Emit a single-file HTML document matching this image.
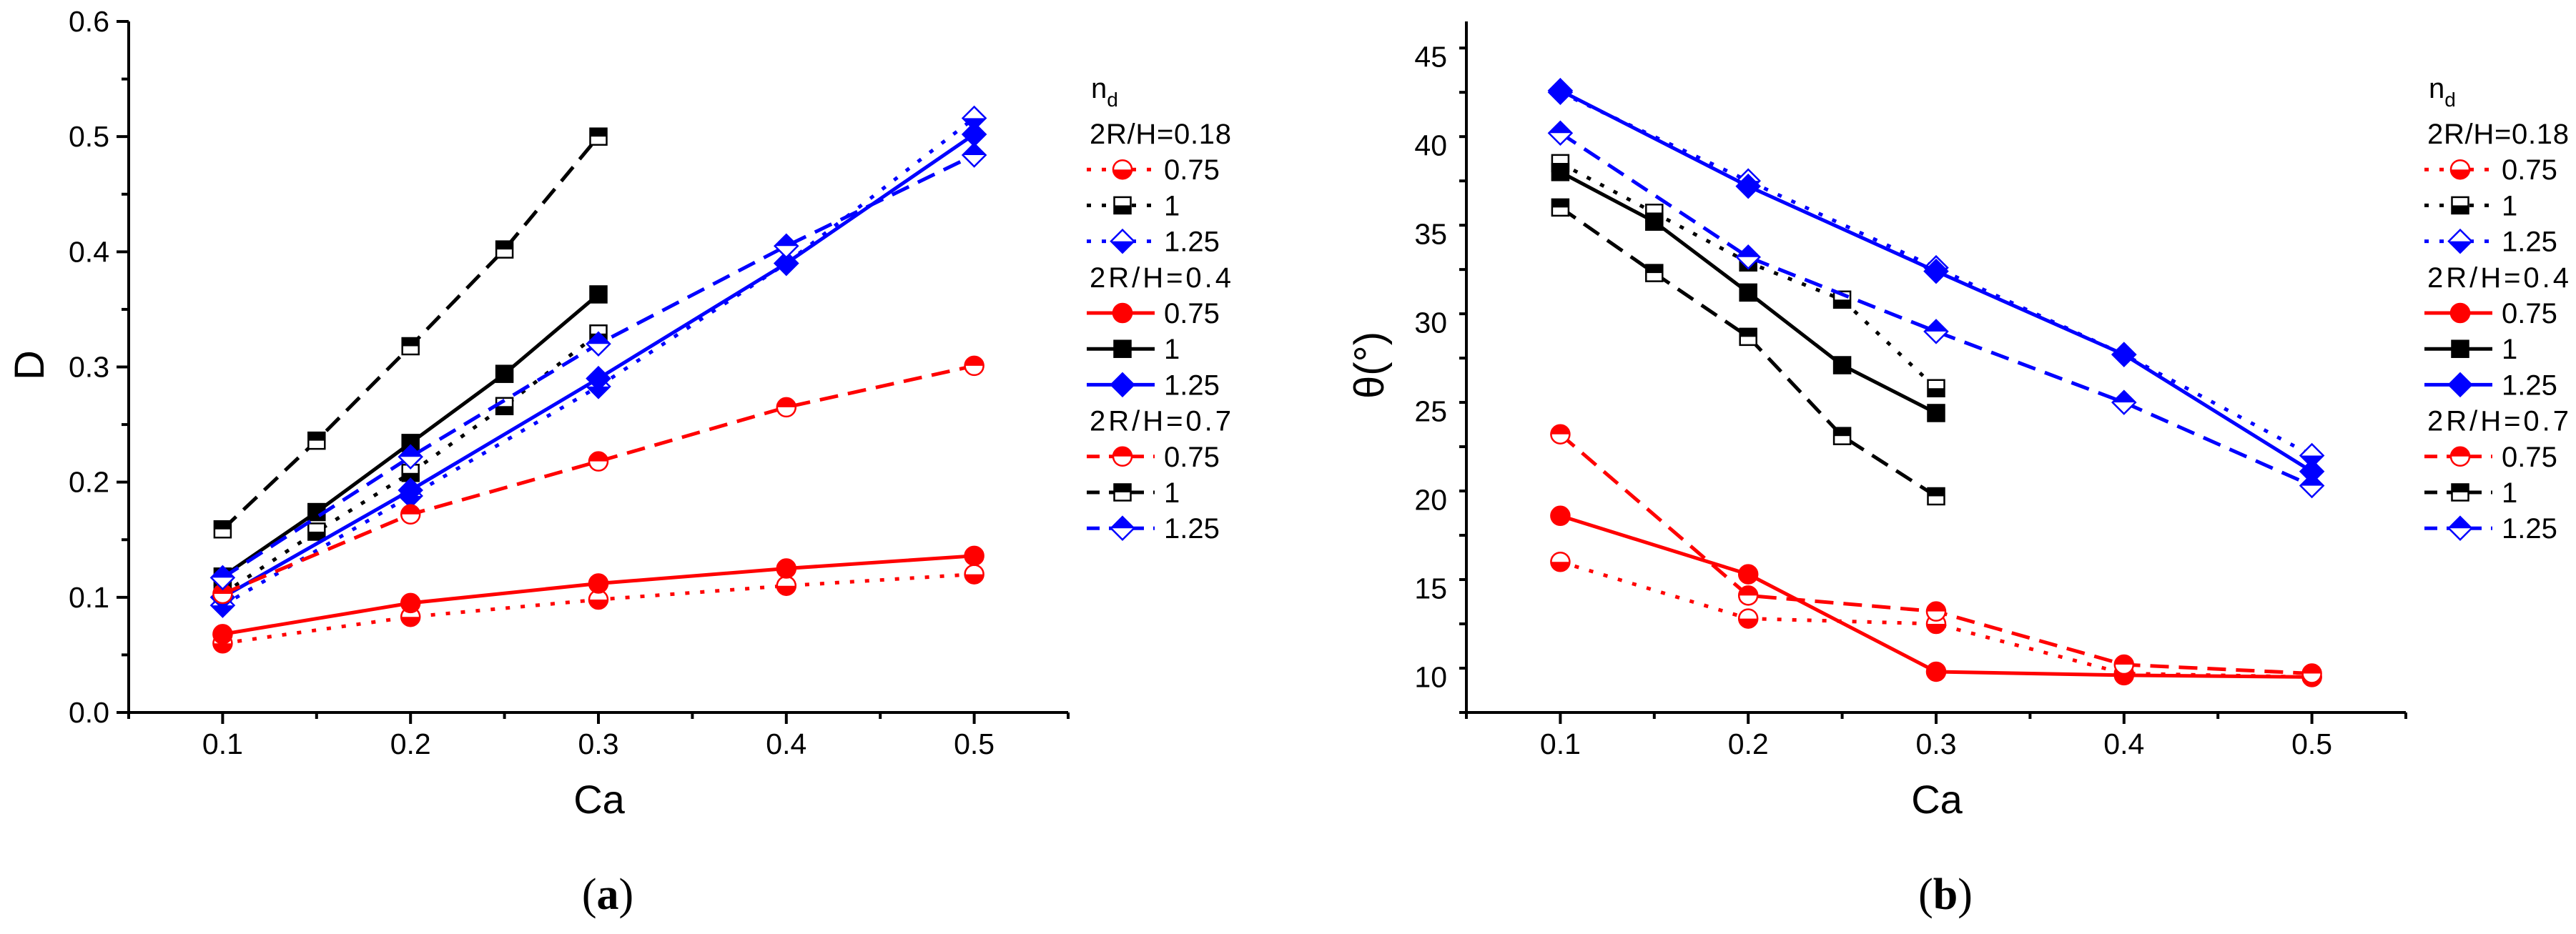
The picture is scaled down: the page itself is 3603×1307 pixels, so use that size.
<!DOCTYPE html>
<html><head><meta charset="utf-8"><style>
html,body{margin:0;padding:0;background:#fff;}
svg{display:block;font-family:"Liberation Sans",Arial,sans-serif;}
</style></head><body>
<svg id="fig" width="3603" height="1307" viewBox="0 0 3603 1307" xmlns="http://www.w3.org/2000/svg"></svg>
<script>
const caValues5 = [0.1, 0.2, 0.3, 0.4, 0.5];
const caValues3 = [0.1, 0.15, 0.2, 0.25, 0.3];
const xTickLabels = ["0.1","0.2","0.3","0.4","0.5"];
const dTickLabels = ["0.0","0.1","0.2","0.3","0.4","0.5","0.6"];
const thetaTickLabels = ["10","15","20","25","30","35","40","45"];
// Panel a: D
const dRed018 = [0.060, 0.083, 0.098, 0.110, 0.120];
const dBlack018 = [0.103, 0.157, 0.208, 0.266, 0.329];
const dBlue018 = [0.093, 0.188, 0.283, 0.390, 0.516];
const dRed04 = [0.068, 0.095, 0.112, 0.125, 0.136];
const dBlack04 = [0.118, 0.174, 0.234, 0.294, 0.363];
const dBlue04 = [0.100, 0.193, 0.290, 0.390, 0.502];
const dRed07 = [0.103, 0.172, 0.218, 0.265, 0.301];
const dBlack07 = [0.159, 0.236, 0.318, 0.402, 0.500];
const dBlue07 = [0.117, 0.222, 0.320, 0.405, 0.484];
// Panel b: theta
const tRed018 = [16.5, 13.3, 13.0, 10.2, 10.0];
const tBlack018 = [39.0, 36.2, 33.4, 31.3, 26.3];
const tBlue018 = [43.0, 38.0, 33.1, 28.2, 22.5];
const tRed04 = [19.1, 15.8, 10.3, 10.1, 10.0];
const tBlack04 = [38.5, 35.7, 31.7, 27.6, 24.9];
const tBlue04 = [43.1, 37.7, 32.9, 28.2, 21.6];
const tRed07 = [23.7, 14.6, 13.7, 10.7, 10.2];
const tBlack07 = [36.5, 32.8, 29.2, 23.6, 20.2];
const tBlue07 = [40.7, 33.7, 29.5, 25.5, 20.8];

const NS = "http://www.w3.org/2000/svg";
const svg = document.getElementById('fig');
function mk(tag, attrs, parent){
  const e = document.createElementNS(NS, tag);
  for (const k in attrs) e.setAttribute(k, attrs[k]);
  (parent||svg).appendChild(e);
  return e;
}
const RED="#ff0000", BLUE="#0000ff", BLACK="#000000";
const DASH = {dot:"6,15", solid:"", dash:"26,14"};

function marker(g, shape, cx, cy, color, fill){ // fill: 'full','bottom','top'
  const m = mk('g', {}, g);
  
  
  let r;
  if (shape==='circle'){
    r=13;
    mk('circle',{cx:cx,cy:cy,r:r,fill:fill==='full'?color:'#fff',stroke:color,'stroke-width':2.5},m);
    if(fill==='bottom') mk('path',{d:`M${cx-r},${cy} A${r},${r} 0 0 0 ${cx+r},${cy} Z`,fill:color},m);
    if(fill==='top') mk('path',{d:`M${cx-r},${cy} A${r},${r} 0 0 1 ${cx+r},${cy} Z`,fill:color},m);
  } else if (shape==='square'){
    r=11.5;
    mk('rect',{x:cx-r,y:cy-r,width:2*r,height:2*r,fill:fill==='full'?color:'#fff',stroke:color,'stroke-width':2.5},m);
    if(fill==='bottom') mk('rect',{x:cx-r,y:cy,width:2*r,height:r,fill:color},m);
    if(fill==='top') mk('rect',{x:cx-r,y:cy-r,width:2*r,height:r,fill:color},m);
  } else {
    r=16;
    mk('path',{d:`M${cx},${cy-r} L${cx+r},${cy} L${cx},${cy+r} L${cx-r},${cy} Z`,fill:fill==='full'?color:'#fff',stroke:color,'stroke-width':2.5},m);
    if(fill==='bottom') mk('path',{d:`M${cx-r},${cy} L${cx+r},${cy} L${cx},${cy+r} Z`,fill:color},m);
    if(fill==='top') mk('path',{d:`M${cx-r},${cy} L${cx+r},${cy} L${cx},${cy-r} Z`,fill:color},m);
  }
}

function panel(off, yMin, yMax, yTicks, yLabels, minorStep, series, yTitle, caption, nameP){
  const g = mk('g', {});
  
  
  const X0 = 180+off, X1 = 1494+off, Yt = 30, Yb = 997;
  const xs = v => X0 + (v-0.05)/0.5*(X1-X0);
  const ys = v => Yb - (v-yMin)/(yMax-yMin)*(Yb-Yt);
  // axes
  const ax = mk('path',{d:`M${X0},${Yt} L${X0},${Yb} L${X1},${Yb}`,fill:'none',stroke:'#000','stroke-width':4},g);
  
  
  // x ticks
  for(let i=0;i<=10;i++){
    const v=0.05+i*0.05, x=xs(v), major=(i%2===1);
    mk('line',{x1:x,y1:Yb,x2:x,y2:Yb+(major?16:9),stroke:'#000','stroke-width':4},g);
  }
  xTickLabels.forEach((t,i)=>{
    const tx = mk('text',{x:xs(caValues5[i]),y:1055,'font-size':41,'text-anchor':'middle'},g);
    tx.textContent=t;
    
    
  });
  // y ticks
  for(let v=yMin; v<=yMax+1e-9; v+=minorStep){
    const isMajor = yTicks.some(t=>Math.abs(t-v)<1e-6);
    const y=ys(v);
    mk('line',{x1:X0-(isMajor?17:10),y1:y,x2:X0,y2:y,stroke:'#000','stroke-width':4},g);
  }
  yTicks.forEach((t,i)=>{
    const tx = mk('text',{x:153+off,y:ys(t)+14,'font-size':41,'text-anchor':'end'},g);
    tx.textContent=yLabels[i];
    
    
  });
  // titles
  const xt = mk('text',{x:838+off,y:1138,'font-size':56,'text-anchor':'middle'},g);
  xt.textContent='Ca';
  
  
  const yt = mk('text',{x:0,y:0,'font-size':58,'text-anchor':'middle',transform:`translate(${off===0?61:off+64},511) rotate(-90)`},g);
  yt.textContent=yTitle;
  
  
  const cap = mk('text',{x:850+off,y:1272,'font-size':62,'text-anchor':'middle','font-family':'"Liberation Serif",serif'},g);
  cap.innerHTML = '(<tspan font-weight="bold">'+caption+'</tspan>)';
  
  
  // series
  series.forEach(s=>{
    const sg = mk('g',{},g);
    
    
    const pts = s.y.map((v,i)=>xs(s.x[i])+','+ys(v)).join(' ');
    const attrs={points:pts,fill:'none',stroke:s.c,'stroke-width':5};
    if(DASH[s.st]) attrs['stroke-dasharray']=DASH[s.st];
    const pl = mk('polyline',attrs,sg);
    
    
    s.y.forEach((v,i)=>marker(sg,s.sh,xs(s.x[i]),ys(v),s.c,s.f));
  });
  // legend
  const lg = mk('g',{},g);
  
  
  const LX = 1524+off;
  const nd = mk('text',{x:LX+2,y:137,'font-size':40},lg);
  nd.innerHTML='n<tspan font-size="28" dy="12">d</tspan>';
  
  
  const groups=["2R/H=0.18","2R/H=0.4","2R/H=0.7"];
  let row=0;
  groups.forEach((gname,gi)=>{
    const cy = 187 + row*50.2;
    const h = mk('text',{x:LX,y:cy+14,'font-size':40,textLength:198},lg);
    h.textContent=gname;
    
    
    row++;
    for(let k=0;k<3;k++){
      const s = series[gi*3+k];
      const y = 187 + row*50.2;
      const eg = mk('g',{},lg);
      
      
      const la={x1:LX-4,y1:y,x2:LX+91,y2:y,stroke:s.c,'stroke-width':5};
      if(DASH[s.st]) la['stroke-dasharray']= s.st==='dot' ? "6,15" : "18,13";
      mk('line',la,eg);
      marker(eg,s.sh,LX+46,y,s.c,s.f);
      const t = mk('text',{x:LX+104,y:y+14,'font-size':40},eg);
      t.textContent = s.label;
      row++;
    }
  });
}

function mkSeries(v018,v04,v07){
  const shapes=['circle','square','diamond'], cols=[RED,BLACK,BLUE], labels=['0.75','1','1.25'];
  const xsets=[caValues5,caValues3,caValues5];
  const out=[];
  [[v018,'dot','bottom','018'],[v04,'solid','full','04'],[v07,'dash','top','07']].forEach(([vals,st,f,n])=>{
    vals.forEach((arr,k)=>out.push({x:xsets[k],y:arr,st:st,f:f,sh:shapes[k],c:cols[k],label:labels[k],name:n+'-'+labels[k]}));
  });
  return out;
}
panel(0, 0, 0.6, [0,0.1,0.2,0.3,0.4,0.5,0.6], dTickLabels, 0.05,
  mkSeries([dRed018,dBlack018,dBlue018],[dRed04,dBlack04,dBlue04],[dRed07,dBlack07,dBlue07]), 'D', 'a', 'deformation');
panel(1871, 8, 47, [10,15,20,25,30,35,40,45], thetaTickLabels, 2.5,
  mkSeries([tRed018,tBlack018,tBlue018],[tRed04,tBlack04,tBlue04],[tRed07,tBlack07,tBlue07]), 'θ(°)', 'b', 'angle');
</script>
</body></html>
